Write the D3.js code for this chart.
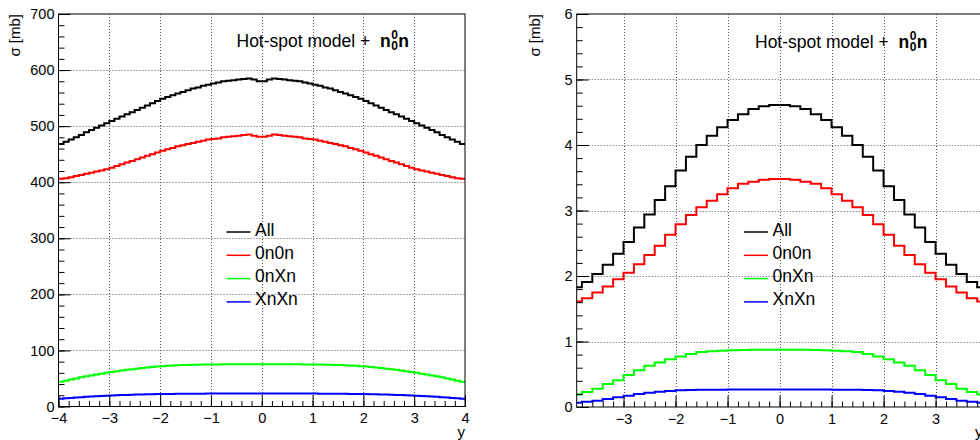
<!DOCTYPE html>
<html><head><meta charset="utf-8">
<script src="https://cdn.jsdelivr.net/npm/d3@7"></script>
<style>
html,body{margin:0;padding:0;background:#fff;overflow:hidden}
text{font-family:"Liberation Sans",Arial,Helvetica,sans-serif;fill:#000}
</style></head><body>
<svg id="chart" width="980" height="440"></svg>
<script>
// ---- data: left pad, 80 bins of width 0.1 starting at y=-4 ----
const leftBinLo = -4, leftBinWidth = 0.1;
const leftAll = [
  468, 472, 476, 480, 484, 489, 493, 497, 501, 505,
  509, 513, 517, 521, 525, 529, 533, 537, 541, 545,
  549, 552, 555, 558, 561, 564, 567, 569, 572, 574,
  576, 578, 580, 581, 582, 583, 584, 585, 583, 580,
  580, 583, 585, 584, 583, 582, 581, 580, 578, 576,
  574, 572, 569, 567, 564, 561, 558, 555, 552, 549,
  545, 541, 537, 533, 529, 525, 521, 517, 513, 509,
  505, 501, 497, 493, 489, 484, 480, 476, 472, 468];
const left0n0n = [
  406, 407, 409, 411, 413, 415, 417, 419, 421, 423,
  426, 429, 432, 435, 438, 441, 444, 447, 450, 453,
  456, 459, 461, 464, 466, 468, 470, 472, 474, 476,
  477, 478, 480, 481, 482, 483, 484, 485, 483, 481,
  481, 483, 485, 484, 483, 482, 481, 480, 478, 477,
  476, 474, 472, 470, 468, 466, 464, 461, 459, 456,
  453, 450, 447, 444, 441, 438, 435, 432, 429, 426,
  423, 421, 419, 417, 415, 413, 411, 409, 407, 406];
const left0nXn = [
  44, 46, 48, 50, 52, 54, 55.5, 57, 58.5, 60,
  61.5, 63, 64, 65.5, 66.5, 67.5, 68.5, 69.5, 70.5, 71.5,
  72, 72.5, 73, 73.5, 74, 74, 74.5, 74.5, 75, 75,
  75, 75, 75.5, 75.5, 75.5, 75.5, 75.5, 75.5, 75.5, 75.5,
  75.5, 75.5, 75.5, 75.5, 75.5, 75.5, 75.5, 75.5, 75, 75,
  75, 75, 74.5, 74.5, 74, 74, 73.5, 73, 72.5, 72,
  71.5, 70.5, 69.5, 68.5, 67.5, 66.5, 65.5, 64, 63, 61.5,
  60, 58.5, 57, 55.5, 54, 52, 50, 48, 46, 44];
const leftXnXn = [
  14, 14.7, 15.3, 16, 16.6, 17.2, 17.7, 18.2, 18.7, 19.2,
  19.6, 20, 20.4, 20.7, 21, 21.3, 21.6, 21.8, 22, 22.2,
  22.3, 22.4, 22.5, 22.6, 22.7, 22.8, 22.8, 22.9, 22.9, 23,
  23, 23, 23, 23, 23, 23, 23, 23, 23, 23,
  23, 23, 23, 23, 23, 23, 23, 23, 23, 23,
  23, 22.9, 22.9, 22.8, 22.8, 22.7, 22.6, 22.5, 22.4, 22.3,
  22.2, 22, 21.8, 21.6, 21.3, 21, 20.7, 20.4, 20, 19.6,
  19.2, 18.7, 18.2, 17.7, 17.2, 16.6, 16, 15.3, 14.7, 14];

// ---- data: right pad, 40 bins of width 0.2 starting at y=-4 ----
const rightBinLo = -4, rightBinWidth = 0.2;
const rightAll = [
  1.83, 1.91, 2.03, 2.17, 2.34, 2.52, 2.74, 2.94, 3.16, 3.37,
  3.61, 3.82, 4.00, 4.14, 4.27, 4.38, 4.47, 4.55, 4.59, 4.61,
  4.61, 4.59, 4.55, 4.47, 4.38, 4.27, 4.14, 4.00, 3.82, 3.61,
  3.37, 3.16, 2.94, 2.74, 2.52, 2.34, 2.17, 2.03, 1.91, 1.83];
const right0n0n = [
  1.61, 1.66, 1.75, 1.84, 1.95, 2.05, 2.18, 2.32, 2.46, 2.63,
  2.79, 2.93, 3.05, 3.15, 3.25, 3.34, 3.41, 3.44, 3.47, 3.48,
  3.48, 3.47, 3.44, 3.41, 3.34, 3.25, 3.15, 3.05, 2.93, 2.79,
  2.63, 2.46, 2.32, 2.18, 2.05, 1.95, 1.84, 1.75, 1.66, 1.61];
const right0nXn = [
  0.19, 0.23, 0.28, 0.35, 0.41, 0.49, 0.56, 0.63, 0.68, 0.73,
  0.77, 0.81, 0.84, 0.85, 0.86, 0.865, 0.87, 0.875, 0.875, 0.875,
  0.875, 0.875, 0.875, 0.87, 0.865, 0.86, 0.85, 0.84, 0.81, 0.77,
  0.73, 0.68, 0.63, 0.56, 0.49, 0.41, 0.35, 0.28, 0.23, 0.19];
const rightXnXn = [
  0.066, 0.081, 0.097, 0.122, 0.148, 0.173, 0.198, 0.219, 0.234, 0.244,
  0.254, 0.26, 0.262, 0.264, 0.265, 0.266, 0.267, 0.268, 0.268, 0.268,
  0.268, 0.268, 0.268, 0.267, 0.266, 0.265, 0.264, 0.262, 0.26, 0.254,
  0.244, 0.234, 0.219, 0.198, 0.173, 0.148, 0.122, 0.097, 0.081, 0.066];

const seriesNames = ["All", "0n0n", "0nXn", "XnXn"];
const seriesColors = ["#000000", "#ff0000", "#00ff00", "#0000ff"];
const titleText = "Hot-spot model +\u00a0\u00a0";
const yTitle = "\u03c3 [mb]";
const xTitle = "y";

const leftXMajor = [-4, -3, -2, -1, 0, 1, 2, 3, 4];
const leftYMajor = [0, 100, 200, 300, 400, 500, 600, 700];
const rightXMajor = [-3, -2, -1, 0, 1, 2, 3];
const rightYMajor = [0, 1, 2, 3, 4, 5, 6];

var svg = d3.select("#chart");
var fmt = d => d < 0 ? "\u2212" + Math.abs(d) : String(d);

function drawPanel(cfg) {
    var g = svg.append("g");
    var x = d3.scaleLinear().domain(cfg.xDomain).range([cfg.left, cfg.right]);
    var y = d3.scaleLinear().domain(cfg.yDomain).range([cfg.bottom, cfg.top]);

    // dotted grid at major ticks
    var grid = g.append("g").attr("stroke", "#555").attr("stroke-width", 1)
        .attr("stroke-dasharray", "1,2");
    grid.selectAll(".gx").data(cfg.xMajor.filter(v => v > cfg.xDomain[0] && v < cfg.xDomain[1]))
        .enter().append("line")
        .attr("x1", d => Math.round(x(d)) + 0.5).attr("x2", d => Math.round(x(d)) + 0.5)
        .attr("y1", cfg.top).attr("y2", cfg.bottom);
    grid.selectAll(".gy").data(cfg.yMajor.filter(v => v > cfg.yDomain[0] && v < cfg.yDomain[1]))
        .enter().append("line")
        .attr("y1", d => Math.round(y(d)) + 0.5).attr("y2", d => Math.round(y(d)) + 0.5)
        .attr("x1", cfg.left).attr("x2", cfg.right);

    // histograms, clipped to the frame
    var clipId = "clip" + cfg.id;
    svg.append("clipPath").attr("id", clipId).append("rect")
        .attr("x", cfg.left).attr("y", cfg.top)
        .attr("width", cfg.right - cfg.left).attr("height", cfg.bottom - cfg.top);
    var lnMkr = d3.line().curve(d3.curveStepAfter).x(d => x(d[0])).y(d => y(d[1]));
    var hg = g.append("g").attr("clip-path", "url(#" + clipId + ")");
    cfg.series.forEach(function(vals, k) {
        var pts = vals.map((v, i) => [cfg.binLo + i * cfg.binWidth, v]);
        pts.push([cfg.binLo + vals.length * cfg.binWidth, vals[vals.length - 1]]);
        hg.append("path").attr("fill", "none")
            .attr("stroke", seriesColors[k]).attr("stroke-width", 2)
            .attr("d", lnMkr(pts));
    });

    // axes: ticks pointing into the frame
    var xMinor = d3.range(cfg.xMinorRange[0], cfg.xMinorRange[1] + 1, 2).map(k => k / 10);
    var axB = g.append("g").attr("transform", "translate(0," + cfg.bottom + ")")
        .call(d3.axisBottom(x).tickValues(xMinor).tickSize(-5.5).tickFormat(""));
    var axB2 = g.append("g").attr("transform", "translate(0," + cfg.bottom + ")")
        .call(d3.axisBottom(x).tickValues(cfg.xMajor).tickSize(-11.5).tickPadding(6).tickFormat(fmt));
    var yMinor = d3.range(0, cfg.yDomain[1] + cfg.yMinorStep / 2, cfg.yMinorStep);
    var axL = g.append("g").attr("transform", "translate(" + cfg.left + ",0)")
        .call(d3.axisLeft(y).tickValues(yMinor).tickSize(-6).tickFormat(""));
    var axL2 = g.append("g").attr("transform", "translate(" + cfg.left + ",0)")
        .call(d3.axisLeft(y).tickValues(cfg.yMajor).tickSize(-12).tickPadding(4).tickFormat(fmt));
    [axB, axB2, axL, axL2].forEach(function(a) {
        a.select(".domain").remove();
        a.selectAll("line").attr("stroke", "#000");
        a.selectAll("text").attr("font-size", 14.5).attr("font-family", null).attr("fill", "#000");
    });
    axB2.selectAll("text").attr("dy", null).attr("y", 16.5);

    // frame
    g.append("rect").attr("x", cfg.left).attr("y", cfg.top)
        .attr("width", cfg.right - cfg.left).attr("height", cfg.bottom - cfg.top)
        .attr("fill", "none").attr("stroke", "#000").attr("stroke-width", 1);

    // axis titles
    g.append("text").attr("transform", "translate(" + cfg.yTitleX + "," + cfg.top + ") rotate(-90)")
        .attr("text-anchor", "end").attr("font-size", 15).text(yTitle);
    g.append("text").attr("x", cfg.right).attr("y", 437).attr("text-anchor", "end")
        .attr("font-size", 15).text(xTitle);

    // title: Hot-spot model + n(0,0)n as one text with tspans
    var t = g.append("text").attr("x", cfg.titleX).attr("y", cfg.titleY).attr("font-size", 17.5);
    t.append("tspan").text(titleText);
    t.append("tspan").attr("font-weight", "bold").text("n");
    t.append("tspan").attr("font-weight", "bold").attr("font-size", 12)
        .attr("dx", 0.5).attr("dy", -8.5).text("0");
    t.append("tspan").attr("font-weight", "bold").attr("font-size", 12)
        .attr("dx", -6.7).attr("dy", 11).text("0");
    t.append("tspan").attr("font-weight", "bold")
        .attr("dx", 0.5).attr("dy", -2.5).text("n");

    // legend
    var lg = g.append("g");
    seriesNames.forEach(function(name, k) {
        var ly = cfg.legendY + k * 23.3;
        lg.append("line").attr("x1", cfg.legendX).attr("x2", cfg.legendX + 24)
            .attr("y1", ly).attr("y2", ly)
            .attr("stroke", seriesColors[k]).attr("stroke-width", 1.5);
        lg.append("text").attr("x", cfg.legendX + 28.5).attr("y", ly + 3.5)
            .attr("font-size", 17.5).text(name);
    });
}

drawPanel({
    id: "L", left: 58.5, right: 465, top: 14, bottom: 406.5,
    xDomain: [-4, 4], yDomain: [0, 700],
    xMajor: leftXMajor, yMajor: leftYMajor, xMinorRange: [-40, 40], yMinorStep: 20,
    binLo: leftBinLo, binWidth: leftBinWidth,
    series: [leftAll, left0n0n, left0nXn, leftXnXn],
    yTitleX: 19.5, titleX: 236.5, titleY: 47, legendX: 226.5, legendY: 232
});
drawPanel({
    id: "R", left: 576.7, right: 982.4, top: 14, bottom: 407,
    xDomain: [-3.9, 3.9], yDomain: [0, 6],
    xMajor: rightXMajor, yMajor: rightYMajor, xMinorRange: [-38, 38], yMinorStep: 0.2,
    binLo: rightBinLo, binWidth: rightBinWidth,
    series: [rightAll, right0n0n, right0nXn, rightXnXn],
    yTitleX: 540, titleX: 755, titleY: 48, legendX: 744, legendY: 232
});
</script>
</body></html>
